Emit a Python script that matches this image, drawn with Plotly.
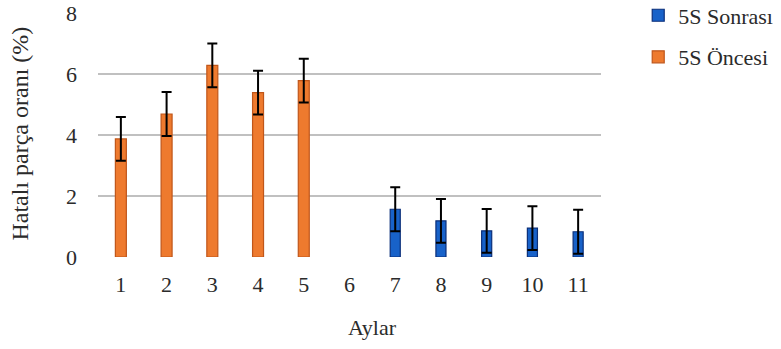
import plotly.graph_objects as go

months = [str(i) for i in range(1, 12)]
before_months = ["1", "2", "3", "4", "5"]
before_values = [3.88, 4.70, 6.30, 5.40, 5.80]
before_errors = [0.72, 0.72, 0.72, 0.72, 0.72]
after_months = ["7", "8", "9", "10", "11"]
after_values = [1.57, 1.19, 0.86, 0.95, 0.83]
after_errors = [0.72, 0.72, 0.72, 0.72, 0.72]
y_ticks = [0, 2, 4, 6, 8]

FONT = "Liberation Serif"
TXT = "#2b2b2b"

fig = go.Figure()
fig.add_trace(go.Bar(
    x=after_months, y=after_values, name="5S Sonrası", width=0.22,
    marker=dict(color="#1862C9", line=dict(color="#0B2F7A", width=1.2)),
    error_y=dict(type="data", array=after_errors, color="black", thickness=2, width=5),
    legendgroup="a",
))
fig.add_trace(go.Bar(
    x=before_months, y=before_values, name="5S Öncesi", width=0.24,
    marker=dict(color="#EE7A2E", line=dict(color="#C0561A", width=1.2)),
    error_y=dict(type="data", array=before_errors, color="black", thickness=2, width=5),
    legendgroup="b",
))

fig.update_layout(
    width=781, height=349,
    margin=dict(l=98, r=180, t=13, b=92, autoexpand=False),
    paper_bgcolor="white", plot_bgcolor="white",
    barmode="overlay",
    font=dict(family=FONT, size=22, color=TXT),
    showlegend=True,
    legend=dict(x=1.074, y=1.076, xanchor="left", yanchor="top",
                font=dict(family=FONT, size=22, color=TXT),
                tracegroupgap=10, itemwidth=30, bgcolor="rgba(0,0,0,0)"),
    xaxis=dict(type="category", categoryorder="array", categoryarray=months,
               tickvals=months, ticktext=months, range=[-0.5, 10.5],
               showgrid=False, showline=False, zeroline=False, ticks="",
               ticklabelstandoff=12, tickfont=dict(family=FONT, size=22, color=TXT)),
    yaxis=dict(range=[0, 8.02], tickvals=y_ticks, showgrid=True, gridcolor="#C0C0C0",
               gridwidth=1.5, zeroline=False, showline=False, ticks="",
               ticklabelstandoff=20, tickfont=dict(family=FONT, size=22, color=TXT)),
    annotations=[
        dict(text="Hatalı parça oranı (%)", xref="paper", yref="paper",
             x=-0.155, y=0.506, textangle=-90, showarrow=False,
             xanchor="center", yanchor="middle",
             font=dict(family=FONT, size=24, color=TXT)),
        dict(text="Aylar", xref="paper", yref="paper", x=0.545, y=-0.287,
             showarrow=False, xanchor="center", yanchor="middle",
             font=dict(family=FONT, size=22, color=TXT)),
    ],
)

fig.write_html("out.html")
